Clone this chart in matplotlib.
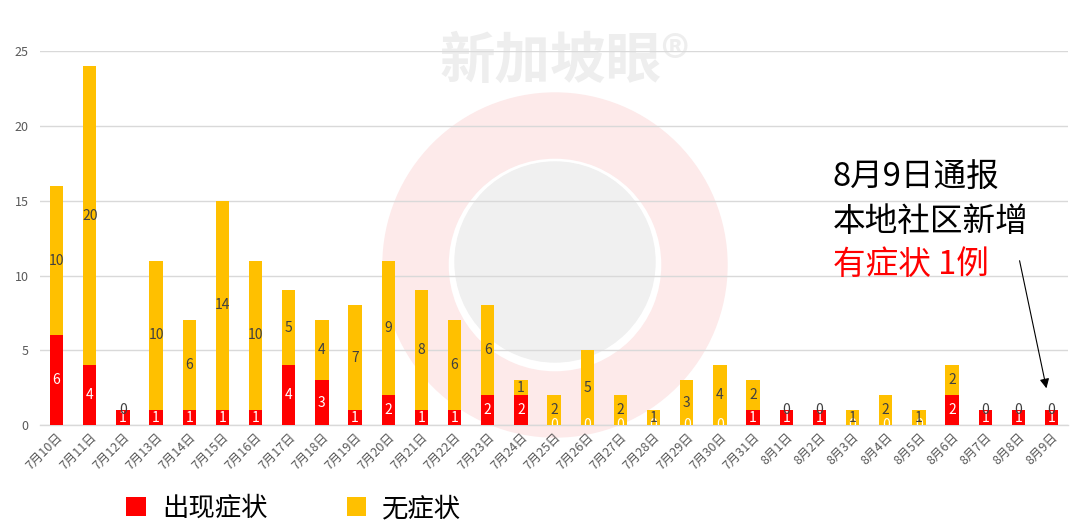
import matplotlib.pyplot as plt
from matplotlib.patches import Circle, Wedge

plt.rcParams['font.family'] = ['Noto Sans CJK SC', 'DejaVu Sans']

# === DADOS ===
dates = ["7月10日", "7月11日", "7月12日", "7月13日", "7月14日", "7月15日", "7月16日",
         "7月17日", "7月18日", "7月19日", "7月20日", "7月21日", "7月22日", "7月23日",
         "7月24日", "7月25日", "7月26日", "7月27日", "7月28日", "7月29日", "7月30日",
         "7月31日", "8月1日", "8月2日", "8月3日", "8月4日", "8月5日", "8月6日",
         "8月7日", "8月8日", "8月9日"]
symptomatic = [6, 4, 1, 1, 1, 1, 1, 4, 3, 1, 2, 1, 1, 2, 2, 0, 0, 0, 0, 0, 0,
               1, 1, 1, 0, 0, 0, 2, 1, 1, 1]
asymptomatic = [10, 20, 0, 10, 6, 14, 10, 5, 4, 7, 9, 8, 6, 6, 1, 2, 5, 2, 1, 3, 4,
                2, 0, 0, 1, 2, 1, 2, 0, 0, 0]
y_ticks = [0, 5, 10, 15, 20, 25]

RED = "#FF0000"
YELLOW = "#FFC000"

fig = plt.figure(figsize=(10.8, 5.28), dpi=100)

# marca d'água (logo esmaecido)
bg = fig.add_axes([0, 0, 1, 1], zorder=0)
bg.set_xlim(0, 1080)
bg.set_ylim(528, 0)
bg.set_aspect('equal')
bg.axis('off')
bg.add_patch(Wedge((555, 265), 172, 0, 360, width=65, color="#fdeaea"))
bg.add_patch(Circle((555, 262), 100, color="#f0f0f0"))
bg.text(565, 62, "新加坡眼®", fontsize=40, color="#eeeeee", ha='center', va='center',
        fontweight='bold')

ax = fig.add_axes([0.037, 0.195, 0.952, 0.708], zorder=1)
ax.patch.set_alpha(0)
x = range(len(dates))
b1 = ax.bar(x, symptomatic, width=0.4, color=RED, label="出现症状", zorder=3)
b2 = ax.bar(x, asymptomatic, width=0.4, bottom=symptomatic, color=YELLOW,
            label="无症状", zorder=3)

# rótulos numéricos
for i in x:
    s, a = symptomatic[i], asymptomatic[i]
    ax.text(i, s / 2, str(s), ha='center', va='center', fontsize=10,
            color='white', zorder=4, clip_on=True)
    ax.text(i, s + a / 2, str(a), ha='center', va='center', fontsize=10,
            color='#404040', zorder=4)

ax.set_xlim(-0.5, len(dates) - 0.5)
ax.set_ylim(0, 25)
ax.set_yticks(y_ticks)
ax.set_xticks(list(x))
ax.set_xticklabels(dates, rotation=45, ha='right', rotation_mode='anchor',
                   fontsize=9, color='#595959')
ax.tick_params(axis='y', labelsize=9, labelcolor='#595959', length=0, pad=8)
ax.tick_params(axis='x', length=0, pad=4)
ax.grid(axis='y', color='#d9d9d9', linewidth=1, zorder=0)
for sp in ['top', 'right', 'left']:
    ax.spines[sp].set_visible(False)
ax.spines['bottom'].set_color('#d9d9d9')
ax.spines['bottom'].set_linewidth(1)
ax.spines['bottom'].set_zorder(0)

# anotação
ax.text(0.771, 0.663, "8月9日通报", transform=fig.transFigure, fontsize=23.5,
        color='black', ha='left', va='center')
ax.text(0.771, 0.580, "本地社区新增", transform=fig.transFigure, fontsize=23.5,
        color='black', ha='left', va='center')
ax.text(0.771, 0.498, "有症状 1例", transform=fig.transFigure, fontsize=23.5,
        color=RED, ha='left', va='center')
ax.annotate("", xy=(1047 / 1080, 1 - 391 / 528), xytext=(1019 / 1080, 1 - 258 / 528),
            xycoords='figure fraction', textcoords='figure fraction',
            arrowprops=dict(arrowstyle='-|>', color='black', lw=0.8,
                            mutation_scale=14))

fig.legend(handles=[b1, b2], loc='center', bbox_to_anchor=(0.272, 0.037), ncol=2,
           frameon=False, fontsize=19, handlelength=0.75, handleheight=0.75,
           columnspacing=3.0, handletextpad=0.6)

plt.savefig("out.png", dpi=100)
